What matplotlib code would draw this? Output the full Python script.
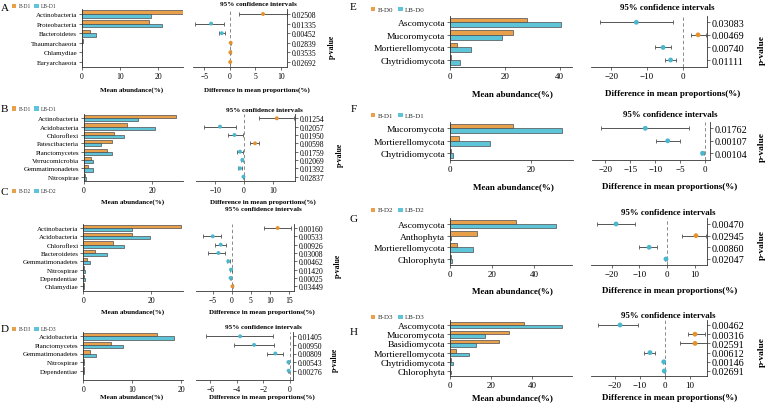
import numpy as np
import matplotlib.pyplot as plt
from matplotlib.patches import Rectangle

W, H = 767, 406
ORANGE = '#E9A04B'
CYAN = '#5EC4D8'
DOT_OR = '#E5922E'
DOT_CY = '#4BB7CD'
EDGE = '#4d4d4d'
ERR = '#555555'

plt.rcParams['font.family'] = ['Liberation Serif', 'DejaVu Serif']

# ==================== data ====================
a_groups = ['B-D1', 'LB-D1']
a_cats = ['Actinobacteria', 'Proteobacteria', 'Bacteroidetes', 'Thaumarchaeota', 'Chlamydiae', 'Euryarchaeota']
a_b = [26.6, 17.7, 2.0, 0.25, 0.1, 0.08]
a_lb = [18.2, 21.2, 3.8, 0.05, 0.02, 0.01]
a_diff = [6.5, -3.7, -1.6, 0.15, 0.08, 0.06]
a_lo = [1.8, -6.9, -2.2, 0.05, 0.03, 0.02]
a_hi = [11.2, -1.2, -1.0, 0.25, 0.13, 0.1]
a_p = ['0.02508', '0.01335', '0.00452', '0.02839', '0.03535', '0.02692']

b_groups = ['B-D1', 'LB-D1']
b_cats = ['Actinobacteria', 'Acidobacteria', 'Chloroflexi', 'Patescibacteria', 'Planctomycetes',
          'Verrucomicrobia', 'Gemmatimonadetes', 'Nitrospirae']
b_b = [27.0, 12.5, 8.8, 8.3, 6.7, 2.0, 1.3, 0.3]
b_lb = [15.8, 21.0, 11.9, 4.9, 8.2, 2.5, 2.5, 0.5]
b_diff = [11.3, -8.3, -3.3, 3.8, -1.4, -0.6, -1.4, -0.2]
b_lo = [5.3, -14.0, -5.4, 2.1, -2.3, -1.0, -2.0, -0.35]
b_hi = [17.3, -2.8, -0.4, 5.2, -0.4, -0.2, -0.8, -0.05]
b_p = ['0.01254', '0.02057', '0.01950', '0.00598', '0.01759', '0.02069', '0.01392', '0.02837']

c_groups = ['B-D2', 'LB-D2']
c_cats = ['Actinobacteria', 'Acidobacteria', 'Chloroflexi', 'Bacteroidetes', 'Gemmatimonadetes',
          'Nitrospirae', 'Dependentiae', 'Chlamydiae']
c_b = [28.8, 14.3, 8.8, 3.4, 1.2, 0.3, 0.1, 0.3]
c_lb = [14.3, 19.7, 11.9, 7.0, 2.0, 0.45, 0.4, 0.1]
c_diff = [12.1, -5.0, -2.9, -3.5, -0.9, -0.2, -0.3, 0.2]
c_lo = [8.6, -7.5, -4.4, -6.2, -1.3, -0.35, -0.45, 0.1]
c_hi = [15.5, -2.9, -1.5, -1.8, -0.5, -0.05, -0.15, 0.3]
c_p = ['0.00160', '0.00533', '0.00926', '0.03008', '0.00462', '0.01420', '0.00025', '0.03449']

d_groups = ['B-D3', 'LB-D3']
d_cats = ['Acidobacteria', 'Planctomycetes', 'Gemmatimonadetes', 'Nitrospirae', 'Dependentiae']
d_b = [15.0, 5.7, 1.4, 0.1, 0.05]
d_lb = [18.6, 8.2, 2.5, 0.2, 0.15]
d_diff = [-3.75, -2.7, -1.1, -0.12, -0.1]
d_lo = [-6.3, -4.2, -1.7, -0.18, -0.15]
d_hi = [-1.25, -1.2, -0.5, -0.06, -0.05]
d_p = ['0.01405', '0.00950', '0.00809', '0.00543', '0.00276']

e_groups = ['B-D0', 'LB-D0']
e_cats = ['Ascomycota', 'Mucoromycota', 'Mortierellomycota', 'Chytridiomycota']
e_b = [28.2, 23.0, 2.4, 0.2]
e_lb = [40.6, 19.0, 7.5, 3.6]
e_diff = [-13.0, 4.3, -5.5, -3.4]
e_lo = [-23.2, 2.2, -7.8, -5.0]
e_hi = [-2.7, 6.4, -3.4, -1.8]
e_p = ['0.03083', '0.00469', '0.00740', '0.01111']

f_groups = ['B-D1', 'LB-D1']
f_cats = ['Mucoromycota', 'Mortierellomycota', 'Chytridiomycota']
f_b = [15.6, 2.3, 0.2]
f_lb = [27.7, 10.0, 0.8]
f_diff = [-12.0, -7.5, -0.5]
f_lo = [-20.8, -9.8, -0.9]
f_hi = [-3.3, -5.0, -0.2]
f_p = ['0.01762', '0.00107', '0.00104']

g_groups = ['B-D2', 'LB-D2']
g_cats = ['Ascomycota', 'Anthophyta', 'Mortierellomycota', 'Chlorophyta']
g_b = [31.4, 12.9, 3.3, 0.3]
g_lb = [50.5, 0.5, 11.0, 1.0]
g_diff = [-18.5, 10.5, -6.5, -0.4]
g_lo = [-25.5, 5.5, -10.0, -0.7]
g_hi = [-11.6, 14.0, -3.6, -0.1]
g_p = ['0.00470', '0.02945', '0.00860', '0.02047']

h_groups = ['B-D3', 'LB-D3']
h_cats = ['Ascomycota', 'Mucoromycota', 'Basidiomycota', 'Mortierellomycota', 'Chytridiomycota', 'Chlorophyta']
h_b = [36.0, 29.0, 24.0, 3.0, 0.3, 0.2]
h_lb = [54.6, 17.0, 12.5, 9.5, 1.5, 0.6]
h_diff = [-18.0, 12.0, 12.0, -6.0, -0.5, -0.3]
h_lo = [-27.0, 9.0, 6.0, -8.5, -0.8, -0.5]
h_hi = [-11.0, 16.0, 17.0, -4.0, -0.2, -0.1]
h_p = ['0.00462', '0.00316', '0.02591', '0.00612', '0.00146', '0.02691']

# ==================== layout (pixels) ====================
FS = {
    'L': dict(cat=5.0, tick=5.5, p=5.5, title=5.1, xlab=5.0, plab=5.5, leg=4.0, letter=8),
    'R': dict(cat=6.8, tick=6.5, p=7.3, title=6.3, xlab=6.5, plab=6.8, leg=5.0, letter=8),
}
LAYOUT = {
    'A': dict(side='L', first=15, last=63, axis=68, bar_x=(82, 183), ci_x=(193, 287),
              bar_lim=26.6, ci_lim=(-7.25, 11.2), bar_ticks=[0, 10, 20], ci_ticks=[-5, 0, 5, 10],
              leg_y=7, letter_y=8.5, title=(258, 5), xlab_y=90.5, bar_xc=132, ci_xc=257, plab=(332, 47)),
    'B': dict(side='L', first=119.3, last=177.7, axis=181.7, bar_x=(84, 183), ci_x=(196, 295),
              bar_lim=29.1, ci_lim=(-16.6, 17.6), bar_ticks=[0, 20], ci_ticks=[-10, 0, 10],
              leg_y=109.5, letter_y=109, title=(264, 110), xlab_y=202, bar_xc=133, ci_xc=263, plab=(340, 155)),
    'C': dict(side='L', first=229, last=287.3, axis=291.7, bar_x=(83.3, 183), ci_x=(196, 294),
              bar_lim=29.4, ci_lim=(-9.4, 16.4), bar_ticks=[0, 20], ci_ticks=[-5, 0, 5, 10, 15],
              leg_y=192, letter_y=192.5, title=(263, 210), xlab_y=312, bar_xc=133, ci_xc=262, plab=(338, 266)),
    'D': dict(side='L', first=337.3, last=371.7, axis=380.7, bar_x=(83.3, 183), ci_x=(196, 293.3),
              bar_lim=20.4, ci_lim=(-7.07, 0.25), bar_ticks=[0, 10, 20], ci_ticks=[-6, -4, -2, 0],
              leg_y=330, letter_y=330, title=(263, 328), xlab_y=397, bar_xc=132, ci_xc=262, plab=(335, 360)),
    'E': dict(side='R', first=23.3, last=61, axis=68.3, bar_x=(450, 572), ci_x=(591, 707),
              bar_lim=44.5, ci_lim=(-25.7, 6.8), bar_ticks=[0, 20, 40], ci_ticks=[-20, -10, 0],
              leg_y=10, letter_y=7.5, title=(667, 8.3), xlab_y=94, bar_xc=512, ci_xc=673, plab=(762, 50)),
    'F': dict(side='R', first=129.3, last=154.3, axis=161, bar_x=(450, 573), ci_x=(592, 710),
              bar_lim=30.4, ci_lim=(-22.7, 1.0), bar_ticks=[0, 20], ci_ticks=[-20, -15, -10, -5, 0],
              leg_y=116, letter_y=110, title=(670, 115), xlab_y=187, bar_xc=513, ci_xc=670, plab=(762, 147)),
    'G': dict(side='R', first=225, last=260, axis=266, bar_x=(450, 572), ci_x=(591, 707),
              bar_lim=58, ci_lim=(-27.6, 14.5), bar_ticks=[0, 20, 40], ci_ticks=[-20, -10, 0, 10],
              leg_y=211, letter_y=220, title=(668, 213), xlab_y=291, bar_xc=512, ci_xc=670, plab=(762, 245)),
    'H': dict(side='R', first=326, last=372, axis=377, bar_x=(450, 572), ci_x=(591, 707),
              bar_lim=59.5, ci_lim=(-29.6, 16.8), bar_ticks=[0, 20, 40], ci_ticks=[-20, -10, 0, 10],
              leg_y=318, letter_y=333, title=(668, 316), xlab_y=398.5, bar_xc=512, ci_xc=670, plab=(762, 352)),
}

fig = plt.figure(figsize=(W / 100, H / 100), dpi=100)
ov = fig.add_axes([0, 0, 1, 1], zorder=10)
ov.set_xlim(0, W)
ov.set_ylim(H, 0)
ov.axis('off')


def style(ax, fs):
    ax.tick_params(axis='both', length=2, width=0.5, pad=1.5, labelsize=fs['tick'], color='#333333')
    for sp in ax.spines.values():
        sp.set_linewidth(0.6)
        sp.set_color('#333333')


def panel(key, groups, cats, bvals, lbvals, diff, lo, hi, pvals):
    L = LAYOUT[key]
    fs = FS[L['side']]
    n = len(cats)
    y = np.arange(n)
    s = (L['last'] - L['first']) / (n - 1)
    top = L['first'] - s / 2
    bot = L['axis']
    ybot = (n - 1) + (L['axis'] - L['last']) / s
    hgt = (bot - top) / H

    # mean abundance bars
    bx0, bx1 = L['bar_x']
    ax = fig.add_axes([bx0 / W, 1 - bot / H, (bx1 - bx0) / W, hgt])
    ax.barh(y - 0.19, bvals, height=0.38, color=ORANGE, edgecolor=EDGE, linewidth=0.5)
    ax.barh(y + 0.19, lbvals, height=0.38, color=CYAN, edgecolor=EDGE, linewidth=0.5)
    ax.set_ylim(ybot, -0.5)
    ax.set_xlim(0, L['bar_lim'])
    ax.set_xticks(L['bar_ticks'])
    ax.set_yticks(y)
    ax.set_yticklabels(cats, fontsize=fs['cat'])
    ax.spines['top'].set_visible(False)
    ax.spines['right'].set_visible(False)
    style(ax, fs)
    ax.tick_params(axis='y', labelsize=fs['cat'])

    # confidence intervals
    cx0, cx1 = L['ci_x']
    ax2 = fig.add_axes([cx0 / W, 1 - bot / H, (cx1 - cx0) / W, hgt])
    diff = np.array(diff)
    lo = np.array(lo)
    hi = np.array(hi)
    ax2.axvline(0, color='#777777', ls=(0, (4, 3)), lw=0.6, zorder=1)
    ax2.errorbar(diff, y, xerr=[diff - lo, hi - diff], fmt='none', ecolor=ERR,
                 elinewidth=0.7, capsize=1.2, capthick=0.6, zorder=2)
    cols = [DOT_OR if d > 0 else DOT_CY for d in diff]
    ax2.scatter(diff, y, s=8 if L['side'] == 'L' else 12, c=cols, zorder=3, linewidths=0)
    ax2.set_ylim(ybot, -0.5)
    ax2.set_xlim(*L['ci_lim'])
    ax2.set_xticks(L['ci_ticks'])
    ax2.set_xticklabels([str(t).replace('-', '\u2212') for t in L['ci_ticks']])
    ax2.yaxis.tick_right()
    ax2.set_yticks(y)
    ax2.set_yticklabels(pvals, fontsize=fs['p'])
    ax2.spines['top'].set_visible(False)
    ax2.spines['left'].set_visible(False)
    style(ax2, fs)
    ax2.tick_params(axis='y', labelsize=fs['p'])

    # texts and legend
    bold = dict(fontweight='bold', ha='center', va='center')
    ov.text(L['title'][0], L['title'][1], '95% confidence intervals', fontsize=fs['title'], **bold)
    ov.text(L['bar_xc'], L['xlab_y'], 'Mean abundance(%)', fontsize=fs['xlab'], **bold)
    ov.text(L['ci_xc'], L['xlab_y'], 'Difference in mean proportions(%)', fontsize=fs['xlab'], **bold)
    ov.text(L['plab'][0], L['plab'][1], 'p-value', fontsize=fs['plab'], rotation=90, **bold)
    if L['side'] == 'L':
        lx, sq1, t1, sq2, t2 = 4.5, 14, 18.5, 36.5, 41
    else:
        lx, sq1, t1, sq2, t2 = 353.5, 373, 377.5, 400.5, 405
    ov.text(lx, L['letter_y'], key, fontsize=fs['letter'], ha='center', va='center')
    sz = 4.5
    ov.add_patch(Rectangle((sq1 - sz / 2, L['leg_y'] - sz / 2), sz, sz, color=ORANGE, lw=0))
    ov.add_patch(Rectangle((sq2 - sz / 2, L['leg_y'] - sz / 2), sz, sz, color=CYAN, lw=0))
    ov.text(t1, L['leg_y'], groups[0], fontsize=fs['leg'], ha='left', va='center', color='#333333')
    ov.text(t2, L['leg_y'], groups[1], fontsize=fs['leg'], ha='left', va='center', color='#333333')


panel('A', a_groups, a_cats, a_b, a_lb, a_diff, a_lo, a_hi, a_p)
panel('B', b_groups, b_cats, b_b, b_lb, b_diff, b_lo, b_hi, b_p)
panel('C', c_groups, c_cats, c_b, c_lb, c_diff, c_lo, c_hi, c_p)
panel('D', d_groups, d_cats, d_b, d_lb, d_diff, d_lo, d_hi, d_p)
panel('E', e_groups, e_cats, e_b, e_lb, e_diff, e_lo, e_hi, e_p)
panel('F', f_groups, f_cats, f_b, f_lb, f_diff, f_lo, f_hi, f_p)
panel('G', g_groups, g_cats, g_b, g_lb, g_diff, g_lo, g_hi, g_p)
panel('H', h_groups, h_cats, h_b, h_lb, h_diff, h_lo, h_hi, h_p)

fig.savefig('out.png', dpi=100)
